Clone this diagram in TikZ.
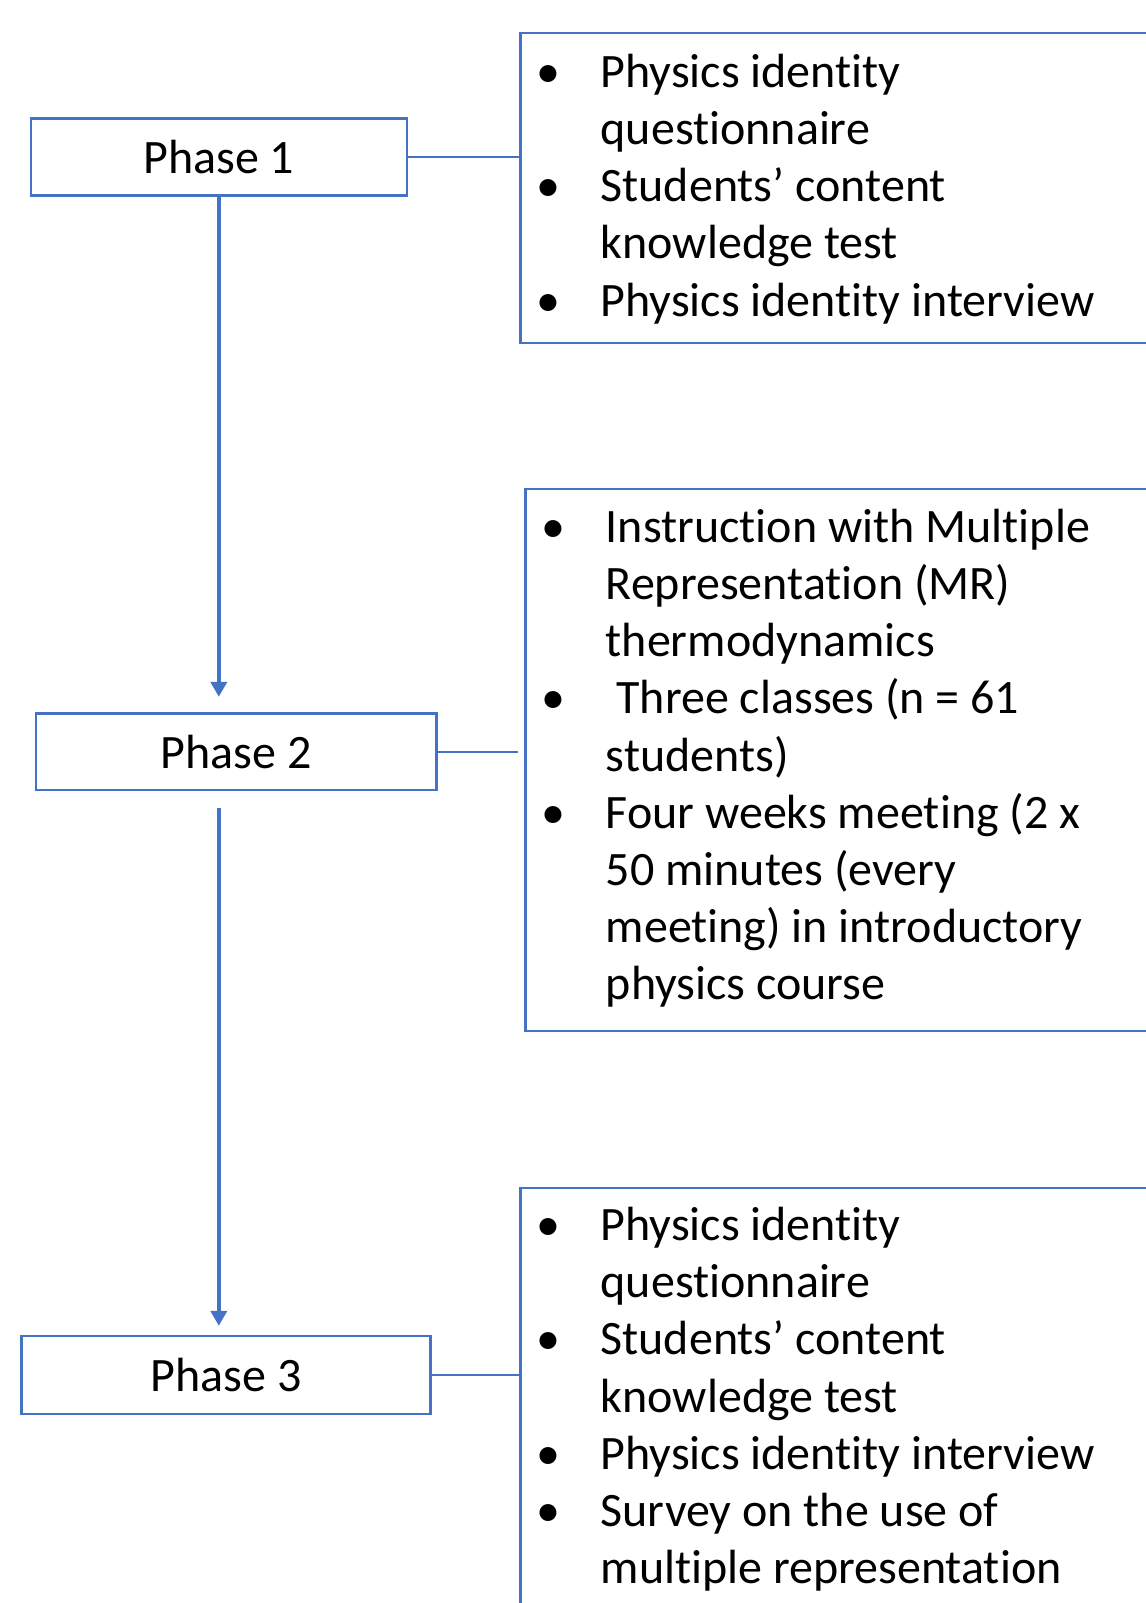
\documentclass[tikz,border=0pt]{standalone}
\usepackage{fontspec}
\setmainfont{Carlito}[Ligatures=NoCommon]
\usetikzlibrary{arrows.meta,calc}
\definecolor{obl}{HTML}{4472C4}
\newcommand{\bul}{\makebox[40.5pt][l]{\makebox[29pt][c]{•}}}
\newcommand{\ind}{\makebox[40.5pt]{}}
\begin{document}
\begin{tikzpicture}[x=0.5pt,y=-0.5pt,
  every node/.style={font=\fontsize{24}{28.6}\selectfont},
  phasebox/.style={draw=obl,line width=1.2pt,fill=white,inner sep=0pt},
  listbox/.style={draw=obl,line width=1.2pt,anchor=north west,inner sep=0pt,minimum width=322pt},
  listtext/.style={anchor=north west,inner sep=0pt,align=left},
  link/.style={draw=obl,line width=0.8pt},
  flow/.style={draw=obl,line width=1.9pt,-{Triangle[length=7.5pt,width=8pt]}}]
\useasboundingbox (0,0) rectangle (1146,1603);
\fill[white] (0,0) rectangle (1146,1603);
\clip (0,0) rectangle (1146,1603);

% phase boxes
\node[phasebox,minimum width=188pt,minimum height=38.5pt] (P1) at (218.8,157) {Phase 1};
\node[phasebox,minimum width=200.4pt,minimum height=38.3pt] (P2) at (236.2,751.9) {Phase 2};
\node[phasebox,minimum width=204.5pt,minimum height=38.8pt] (P3) at (226,1375) {Phase 3};

% list boxes
\node[listbox,minimum height=154.9pt] (L1) at (519.3,31.7) {};
\node[listbox,minimum height=271pt] (L2) at (524.4,487.6) {};
\node[listbox,minimum height=240pt] (L3) at (519.3,1186.9) {};

\node[listtext] (T1) at (519.3,46.9) {%
\strut\bul Physics identity\\
\ind questionnaire\\
\bul Students’ content\\
\ind knowledge test\\
\bul Physics identity interview};

\node[listtext] (T2) at (524.4,501.8) {%
\strut\bul Instruction with Multiple\\
\ind Representation (MR)\\
\ind thermodynamics\\
\bul \hspace*{5.4pt}Three classes (n = 61\\
\ind students)\\
\bul Four weeks meeting (2 x\\
\ind 50 minutes (every\\
\ind meeting) in introductory\\
\ind physics course};

\node[listtext] (T3) at (519.3,1200) {%
\strut\bul Physics identity\\
\ind questionnaire\\
\bul Students’ content\\
\ind knowledge test\\
\bul Physics identity interview\\
\bul Survey on the use of\\
\ind multiple representation};

% links
\draw[link] (P1.east) -- (P1.east -| L1.west);
\draw[link,shorten >=3pt] (P2.east) -- (P2.east -| L2.west);
\draw[link] (P3.east) -- (P3.east -| L3.west);

% flow arrows
\draw[flow,shorten >=7.8pt] (P1.south) -- (P1.south |- P2.north);
\draw[flow,shorten <=8.2pt,shorten >=4.6pt] (P1.south |- P2.south) -- (P1.south |- P3.north);
\end{tikzpicture}
\end{document}
